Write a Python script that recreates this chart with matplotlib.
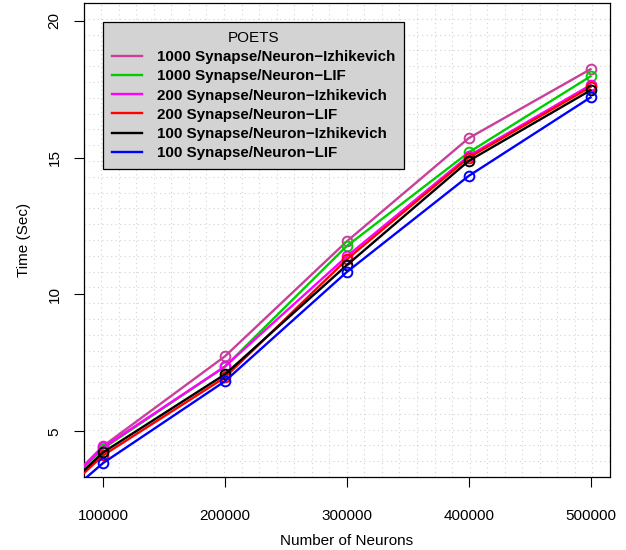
import matplotlib
matplotlib.use("Agg")
import matplotlib.pyplot as plt
import numpy as np
from matplotlib.lines import Line2D

plt.rcParams['font.family'] = ['Liberation Sans', 'DejaVu Sans']

neurons = [0, 100000, 200000, 300000, 400000, 500000]
series_labels = [
    "1000 Synapse/Neuron\u2212Izhikevich",
    "1000 Synapse/Neuron\u2212LIF",
    "200 Synapse/Neuron\u2212Izhikevich",
    "200 Synapse/Neuron\u2212LIF",
    "100 Synapse/Neuron\u2212Izhikevich",
    "100 Synapse/Neuron\u2212LIF",
]
izh_1000 = [0, 4.46, 7.74, 11.94, 15.71, 18.23]
lif_1000 = [0, 4.37, 7.36, 11.77, 15.19, 17.97]
izh_200 = [0, 4.41, 7.37, 11.39, 15.06, 17.65]
lif_200 = [0, 4.12, 6.97, 11.28, 15.00, 17.58]
izh_100 = [0, 4.23, 7.08, 11.07, 14.88, 17.46]
lif_100 = [0, 3.84, 6.83, 10.82, 14.33, 17.20]
series = [izh_1000, lif_1000, izh_200, lif_200, izh_100, lif_100]
colors = ["#C8409A", "#00CD00", "#FF00FF", "#FF0000", "#000000", "#0000FF"]

x_ticks = [100000, 200000, 300000, 400000, 500000]
y_ticks = [5, 10, 15, 20]

fig = plt.figure(figsize=(6.26, 5.5), dpi=100)
ax = fig.add_axes([83.6/626, 1 - 477/550, (610 - 83.6)/626, (477 - 3)/550])

xlim = (84000, 516000)
ylim = (3.33, 20.65)
ax.set_xlim(*xlim)
ax.set_ylim(*ylim)

# dotted grid like R grid(30, 30)
for gx in np.linspace(xlim[0], xlim[1], 31)[1:-1]:
    ax.axvline(gx, color="#D3D3D3", lw=0.8, ls=(0, (1, 3)), zorder=0)
for gy in np.linspace(ylim[0], ylim[1], 31)[1:-1]:
    ax.axhline(gy, color="#D3D3D3", lw=0.8, ls=(0, (1, 3)), zorder=0)

for vals, c, lab in zip(series, colors, series_labels):
    ax.plot(neurons, vals, color=c, lw=1.7, marker="o", ms=7,
            mfc="none", mec=c, mew=1.4, label=lab, zorder=3)

ax.set_xticks(x_ticks)
ax.set_xticklabels([str(v) for v in x_ticks])
ax.set_yticks(y_ticks)
ax.set_yticklabels([str(v) for v in y_ticks], rotation=90, va="center")
ax.tick_params(direction="out", length=7, width=0.8, labelsize=11)
ax.tick_params(axis="y", pad=9)
ax.tick_params(axis="x", pad=16)
for sp in ax.spines.values():
    sp.set_linewidth(0.9)

ax.set_xlabel("Number of Neurons", fontsize=11, labelpad=8)
ax.set_ylabel("Time (Sec)", fontsize=11, labelpad=12)

leg_handles = [Line2D([0], [0], color=c, lw=1.7) for c in colors]
leg = ax.legend(leg_handles, series_labels, title="POETS", loc="upper left",
                bbox_to_anchor=((103 - 83.6)/526.4, 1 - (22 - 3)/474),
                frameon=True, fancybox=False, facecolor="#D3D3D3",
                edgecolor="black", framealpha=1,
                title_fontsize=11, prop={"weight": "bold", "size": 10.9},
                handlelength=2.0, handletextpad=0.95, labelspacing=0.34,
                borderpad=0.6, borderaxespad=0)
leg.get_frame().set_linewidth(0.9)
leg.get_title().set_fontweight("normal")

fig.savefig("out.png", dpi=100)
